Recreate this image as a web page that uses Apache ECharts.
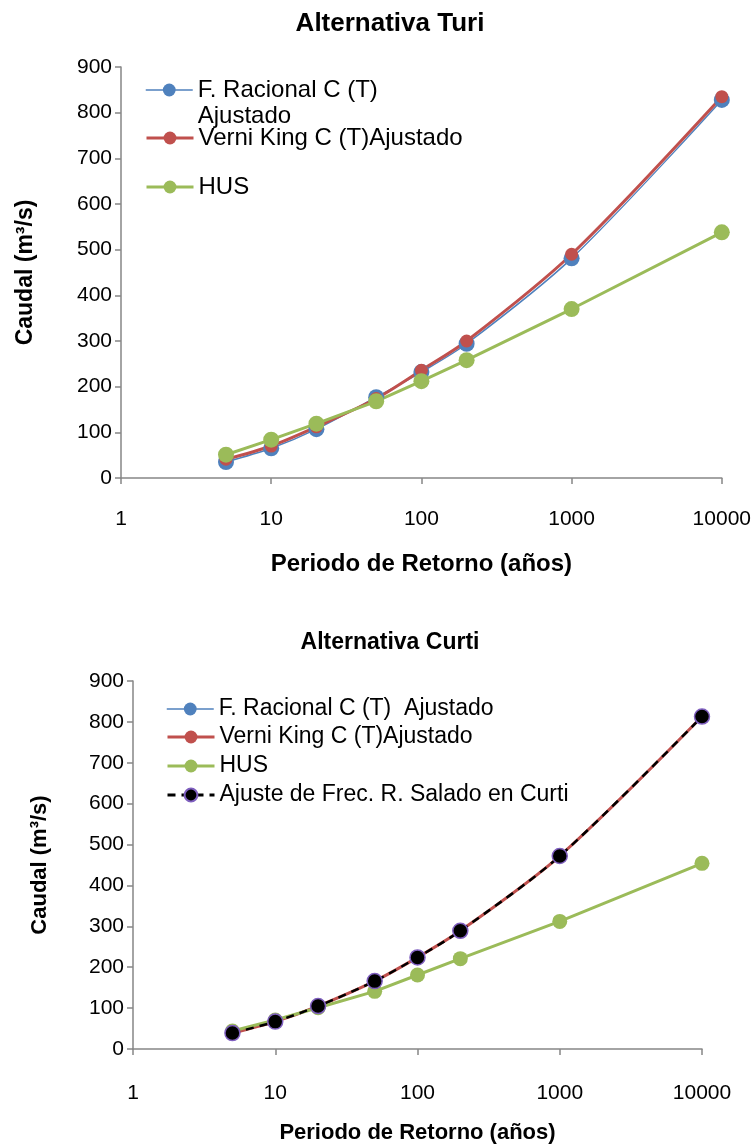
<!DOCTYPE html>
<html>
<head>
<meta charset="utf-8">
<script src="https://cdn.jsdelivr.net/npm/echarts@6/dist/echarts.min.js"></script>
<style>
html,body{margin:0;padding:0;background:#fff;}
#chart{width:754px;height:1145px;}
</style>
</head>
<body>
<div id="chart"></div>
<script>
// Return periods (years)
const periods = [5, 10, 20, 50, 100, 200, 1000, 10000];
const xTickLabels = ['1', '10', '100', '1000', '10000'];
const yTicks = [0, 100, 200, 300, 400, 500, 600, 700, 800, 900];

// Alternativa Turi
const turiRacional = [35, 65, 107, 177, 232, 294, 481, 828];
const turiVerniKing = [41, 70, 112, 174, 236, 300, 490, 835];
const turiHUS = [51, 84, 119, 168, 212, 258, 370, 538];

// Alternativa Curti
const curtiRacional = [39, 67, 105, 166, 224, 289, 472, 813];
const curtiVerniKing = [39, 67, 105, 166, 224, 289, 472, 813];
const curtiHUS = [44, 71, 101, 141, 181, 221, 312, 454];
const curtiAjuste = [39, 67, 105, 166, 224, 289, 472, 813];

const names = {
  rac1: 'F. Racional C (T) Ajustado',
  rac2: 'F. Racional C (T)  Ajustado',
  vk: 'Verni King C (T)Ajustado',
  hus: 'HUS',
  aj: 'Ajuste de Frec. R. Salado en Curti'
};

const BLUE = '#4F81BD', RED = '#C0504D', GREEN = '#9BBB59';
const FONT = '"Liberation Sans", Arial, sans-serif';

function pairs(vals) { return periods.map((p, i) => [p, vals[i]]); }

const chart = echarts.init(document.getElementById('chart'), null, {renderer: 'canvas'});

function xAxis(gridIndex, nameGap, labelMargin, nameSize) {
  return {
    type: 'log', logBase: 10, min: 1, max: 10000, gridIndex,
    name: 'Periodo de Retorno (años)', nameLocation: 'middle', nameGap,
    nameTextStyle: {fontFamily: FONT, fontWeight: 'bold', fontSize: nameSize, color: '#000'},
    axisLine: {lineStyle: {color: '#868686', width: 1.5}},
    axisTick: {show: true, inside: false, length: 6, lineStyle: {color: '#868686', width: 1.5}},
    minorTick: {show: false}, splitLine: {show: false},
    axisLabel: {fontFamily: FONT, fontSize: 21, color: '#000', margin: labelMargin,
      formatter: v => { const s = String(Math.round(v)); return xTickLabels.indexOf(s) >= 0 ? s : ''; }}
  };
}
function yAxis(gridIndex, nameGap, nameSize) {
  return {
    type: 'value', min: 0, max: 900, interval: 100, gridIndex,
    name: 'Caudal (m³/s)', nameLocation: 'middle', nameGap, nameRotate: 90,
    nameTextStyle: {fontFamily: FONT, fontWeight: 'bold', fontSize: nameSize, color: '#000'},
    axisLine: {show: true, lineStyle: {color: '#868686', width: 1.5}},
    axisTick: {show: true, inside: false, length: 6, lineStyle: {color: '#868686', width: 1.5}},
    splitLine: {show: false},
    axisLabel: {fontFamily: FONT, fontSize: 21, color: '#000', margin: 9,
      formatter: v => yTicks.indexOf(v) >= 0 ? String(v) : ''}
  };
}

function legendItem(name, left, top, fontSize, lineHeight, itemWidth, lineWidth, formatter) {
  const o = {
    data: [name], orient: 'vertical', left, top, itemWidth, itemHeight: 16,
    itemGap: 0, selectedMode: false, padding: 0,
    lineStyle: {width: lineWidth},
    textStyle: {fontFamily: FONT, fontSize, lineHeight, color: '#000'}
  };
  if (formatter) o.formatter = formatter;
  return o;
}

const option = {
  backgroundColor: '#fff',
  animation: false,
  title: [
    {text: 'Alternativa Turi', left: 385, textAlign: 'center', top: 6,
      textStyle: {fontFamily: FONT, fontWeight: 'bold', fontSize: 26, color: '#000'}},
    {text: 'Alternativa Curti', left: 385, textAlign: 'center', top: 626,
      textStyle: {fontFamily: FONT, fontWeight: 'bold', fontSize: 23, color: '#000'}}
  ],
  grid: [
    {left: 121, right: 32, top: 67, height: 411},
    {left: 133, right: 52, top: 681, height: 372}
  ],
  xAxis: [xAxis(0, 74, 31, 24), xAxis(1, 73, 34, 22)],
  yAxis: [yAxis(0, 84, 23), yAxis(1, 82, 22)],
  legend: [
    legendItem(names.rac1, 145, 51, 24, 26, 47, 1.5, () => '\nF. Racional C (T)\nAjustado'),
    legendItem(names.vk, 145, 125, 24, 26, 47, 3),
    legendItem(names.hus, 145, 174, 24, 26, 47, 3),
    legendItem(names.rac2, 166, 697, 23, 24, 47, 1.5),
    legendItem(names.vk, 166, 725, 23, 24, 47, 3),
    legendItem(names.hus, 166, 754, 23, 24, 47, 3),
    legendItem(names.aj, 166, 783, 23, 24, 47, 3)
  ],
  series: [
    {name: names.rac1, type: 'line', xAxisIndex: 0, yAxisIndex: 0, data: pairs(turiRacional),
      smooth: 0.3, symbol: 'circle', symbolSize: 16, color: BLUE,
      lineStyle: {width: 1.5, color: BLUE}, itemStyle: {color: BLUE}},
    {name: names.vk, type: 'line', xAxisIndex: 0, yAxisIndex: 0, data: pairs(turiVerniKing),
      smooth: 0.3, symbol: 'circle', symbolSize: 13, color: RED,
      lineStyle: {width: 3, color: RED}, itemStyle: {color: RED}},
    {name: names.hus, type: 'line', xAxisIndex: 0, yAxisIndex: 0, data: pairs(turiHUS),
      symbol: 'circle', symbolSize: 16, color: GREEN,
      lineStyle: {width: 3, color: GREEN}, itemStyle: {color: GREEN}},

    {name: names.rac2, type: 'line', xAxisIndex: 1, yAxisIndex: 1, data: pairs(curtiRacional),
      smooth: 0.3, symbol: 'circle', symbolSize: 12, color: BLUE,
      lineStyle: {width: 1.5, color: BLUE}, itemStyle: {color: BLUE}},
    {name: names.vk, type: 'line', xAxisIndex: 1, yAxisIndex: 1, data: pairs(curtiVerniKing),
      smooth: 0.3, symbol: 'circle', symbolSize: 9, color: RED,
      lineStyle: {width: 3, color: RED}, itemStyle: {color: RED}},
    {name: names.hus, type: 'line', xAxisIndex: 1, yAxisIndex: 1, data: pairs(curtiHUS),
      symbol: 'circle', symbolSize: 15, color: GREEN,
      lineStyle: {width: 3, color: GREEN}, itemStyle: {color: GREEN}},
    {name: names.aj, type: 'line', xAxisIndex: 1, yAxisIndex: 1, data: pairs(curtiAjuste),
      smooth: 0.3, symbol: 'circle', symbolSize: 15, color: '#000',
      lineStyle: {width: 2.5, color: '#000', type: [8, 6]},
      itemStyle: {color: '#000', borderColor: '#7F5FBF', borderWidth: 1.5}}
  ]
};
chart.setOption(option);
</script>
</body>
</html>
